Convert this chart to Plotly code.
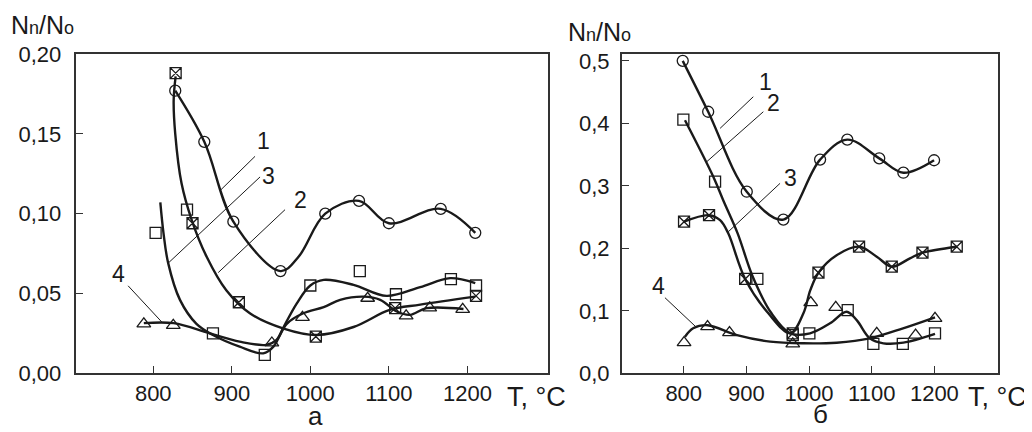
import plotly.graph_objects as go

# ---------------- Panel "а" (left) ----------------
a1_T = [828, 865, 902, 962, 1019, 1062, 1100, 1166, 1210]
a1_v = [0.177, 0.145, 0.095, 0.064, 0.100, 0.108, 0.094, 0.103, 0.088]
a1_line_T = [828, 865, 902, 962, 985, 1019, 1062, 1100, 1166, 1210]
a1_line_v = [0.177, 0.145, 0.095, 0.064, 0.073, 0.100, 0.108, 0.094, 0.103, 0.088]

a2_T = [803, 843, 876, 942, 1000, 1063, 1109, 1179, 1211]
a2_v = [0.088, 0.1025, 0.025, 0.0115, 0.055, 0.064, 0.0495, 0.059, 0.055]
a2_line_T = [809, 813, 819, 834, 855, 876, 910, 940, 953, 966, 983, 1000, 1017, 1055, 1097, 1140, 1178, 1210]
a2_line_v = [0.107, 0.088, 0.069, 0.046, 0.031, 0.024, 0.0167, 0.0125, 0.0167, 0.029, 0.044, 0.055,
             0.0585, 0.0554, 0.0485, 0.054, 0.0596, 0.0565]

a3_T = [828.5, 850, 909, 1007, 1108, 1211]
a3_v = [0.188, 0.094, 0.0445, 0.023, 0.0408, 0.0485]
a3_line_T = [828.5, 826, 828, 836, 849, 868, 893, 923, 966, 1008, 1055, 1101, 1140, 1210]
a3_line_v = [0.186, 0.171, 0.150, 0.119, 0.096, 0.073, 0.052, 0.0376, 0.028, 0.024, 0.029, 0.0397, 0.043, 0.048]

a4_T = [788, 825.5, 951, 990, 1073, 1122, 1152, 1194]
a4_v = [0.031, 0.030, 0.019, 0.035, 0.047, 0.036, 0.041, 0.040]
a4_line_T = [788, 826, 872, 910, 944, 957, 970, 991, 1017, 1038, 1068, 1089, 1110, 1127, 1148, 1195]
a4_line_v = [0.0314, 0.0314, 0.025, 0.0198, 0.0178, 0.021, 0.031, 0.0376, 0.0415, 0.046, 0.048, 0.046,
             0.0387, 0.0366, 0.0408, 0.0403]

# ---------------- Panel "б" (right) ----------------
b1_T = [798.4, 839, 900.6, 959, 1017.6, 1061, 1112, 1150.5, 1199.5]
b1_v = [0.500, 0.4186, 0.2906, 0.246, 0.342, 0.374, 0.344, 0.321, 0.341]

b2_T = [799.4, 850, 917.5, 974, 1000.5, 1061.7, 1102.6, 1149.6, 1201]
b2_v = [0.406, 0.3066, 0.151, 0.061, 0.064, 0.101, 0.047, 0.047, 0.064]
b2_line_T = [802, 847, 863, 886, 910, 940, 970, 1001.6, 1033.5, 1060, 1076, 1097, 1118.6, 1150.5, 1201]
b2_line_v = [0.405, 0.315, 0.277, 0.224, 0.155, 0.096, 0.064, 0.064, 0.080, 0.0986, 0.085, 0.056,
             0.048, 0.049, 0.063]

b3_T = [800.5, 840.4, 898, 974, 1015, 1079.8, 1132, 1181, 1235.7]
b3_v = [0.2426, 0.253, 0.151, 0.064, 0.161, 0.2026, 0.1706, 0.193, 0.2026]
b3_line_T = [800.5, 840, 858, 871, 898, 935, 970, 991, 1002, 1015, 1044, 1080, 1108, 1132, 1161, 1181, 1236]
b3_line_v = [0.2426, 0.253, 0.245, 0.224, 0.151, 0.096, 0.064, 0.096, 0.133, 0.161, 0.189, 0.2026,
             0.1866, 0.1706, 0.184, 0.193, 0.2026]

b4_T = [800.5, 838, 873, 974, 1002.7, 1042.6, 1108, 1170, 1201]
b4_v = [0.049, 0.0746, 0.065, 0.047, 0.113, 0.1056, 0.064, 0.061, 0.088]
b4_line_T = [802, 815, 838, 885, 938, 991, 1044, 1097, 1150, 1201]
b4_line_v = [0.0586, 0.072, 0.077, 0.061, 0.0506, 0.048, 0.049, 0.056, 0.072, 0.0896]

# tick labels
x_ticks = [800, 900, 1000, 1100, 1200]
x_ticktext = ["800", "900", "1000", "1100", "1200"]
ya_ticks = [0.0, 0.05, 0.10, 0.15, 0.20]
ya_ticktext = ["0,00", "0,05", "0,10", "0,15", "0,20"]
yb_ticks = [0.0, 0.1, 0.2, 0.3, 0.4, 0.5]
yb_ticktext = ["0,0", "0,1", "0,2", "0,3", "0,4", "0,5"]

# curve labels: (text, text T, text v, leader start T, v, leader end T, v)
a_labels = [
    ("1", 940, 0.1453, 929.6, 0.1359, 885, 0.1144),
    ("3", 946.5, 0.1233, 936, 0.123, 819, 0.069),
    ("2", 987, 0.1087, 967.8, 0.1025, 882.8, 0.0631),
    ("4", 755.4, 0.0621, 768, 0.0548, 810.7, 0.0322),
]
b_labels = [
    ("1", 929.8, 0.4666, 911, 0.4426, 858, 0.392),
    ("2", 943, 0.432, 927, 0.4186, 836.7, 0.3386),
    ("3", 969.7, 0.312, 953.7, 0.304, 871.2, 0.2266),
    ("4", 759.5, 0.1397, 770, 0.121, 818, 0.0757),
]

INK = "#1a1a1a"
FONT = "Liberation Sans, Arial, sans-serif"
OFF = 8                      # page body margin of the viewer
W, H = 1032 - OFF, 432 - OFF

fig = go.Figure()

def add_line(T, v, xa, ya):
    fig.add_trace(go.Scatter(x=T, y=v, mode="lines", xaxis=xa, yaxis=ya,
                             line=dict(color=INK, width=2.4, shape="spline", smoothing=1.0),
                             showlegend=False, hoverinfo="skip"))

def add_markers(T, v, sym, size, xa, ya):
    fig.add_trace(go.Scatter(x=T, y=v, mode="markers", xaxis=xa, yaxis=ya,
                             marker=dict(symbol=sym, size=size, color=INK,
                                         line=dict(color=INK, width=1.3)),
                             showlegend=False, hoverinfo="skip", cliponaxis=False))

# left panel
add_line(a1_line_T, a1_line_v, "x", "y")
add_line(a2_line_T, a2_line_v, "x", "y")
add_line(a3_line_T, a3_line_v, "x", "y")
add_line(a4_line_T, a4_line_v, "x", "y")
add_markers(a1_T, a1_v, "circle-open", 11, "x", "y")
add_markers(a2_T, a2_v, "square-open", 11, "x", "y")
add_markers(a3_T, a3_v, "square-x-open", 11, "x", "y")
add_markers(a4_T, a4_v, "triangle-up-open", 12, "x", "y")

# right panel
add_line(b1_T, b1_v, "x2", "y2")
add_line(b2_line_T, b2_line_v, "x2", "y2")
add_line(b3_line_T, b3_line_v, "x2", "y2")
add_line(b4_line_T, b4_line_v, "x2", "y2")
add_markers(b1_T, b1_v, "circle-open", 11, "x2", "y2")
add_markers(b2_T, b2_v, "square-open", 11, "x2", "y2")
add_markers(b3_T, b3_v, "square-x-open", 11, "x2", "y2")
add_markers(b4_T, b4_v, "triangle-up-open", 12, "x2", "y2")

annotations = []
shapes = []
for labels, xr, yr in ((a_labels, "x", "y"), (b_labels, "x2", "y2")):
    for txt, tx, tv, sx, sv, ex, ev in labels:
        annotations.append(dict(x=tx, y=tv, xref=xr, yref=yr, text=txt, showarrow=False,
                                font=dict(size=23, color=INK, family=FONT),
                                xanchor="center", yanchor="middle"))
        shapes.append(dict(type="line", x0=sx, y0=sv, x1=ex, y1=ev, xref=xr, yref=yr,
                           line=dict(color=INK, width=1)))

def fx(px):
    return (px - OFF) / W

def fy(py):
    return 1 - (py - OFF) / H

def px_ann(text, px, py, size):
    annotations.append(dict(x=fx(px), y=fy(py), xref="paper", yref="paper", text=text,
                            showarrow=False, font=dict(size=size, color=INK, family=FONT),
                            xanchor="center", yanchor="middle"))

ylab = "N<span style='font-size:18px'>n</span>/N<span style='font-size:18px'>o</span>"
px_ann(ylab, 42, 25, 25)
px_ann(ylab, 599, 32, 25)
px_ann("T, °C", 536, 397, 27)
px_ann("T, °C", 997, 397, 27)
px_ann("а", 315, 416, 26)
px_ann("б", 820, 414, 26)

axis_common = dict(showline=True, linecolor="#333333", linewidth=1.5, mirror=True,
                   ticks="inside", ticklen=8, tickwidth=1.2, tickcolor="#333333",
                   showgrid=False, zeroline=False, automargin=False,
                   tickfont=dict(size=22, color=INK, family=FONT))

y_dom = [fy(373.3), fy(54)]

fig.update_layout(
    width=W, height=H,
    margin=dict(l=0, r=0, t=0, b=0),
    paper_bgcolor="white", plot_bgcolor="white",
    xaxis=dict(domain=[fx(75.5), fx(548.3)], range=[701, 1303], anchor="y",
               tickvals=x_ticks, ticktext=x_ticktext, **axis_common),
    yaxis=dict(domain=y_dom, range=[0, 0.2], anchor="x",
               tickvals=ya_ticks, ticktext=ya_ticktext, ticklabelstandoff=8, **axis_common),
    xaxis2=dict(domain=[fx(621.7), fx(998.3)], range=[701, 1302], anchor="y2",
                tickvals=x_ticks, ticktext=x_ticktext, **axis_common),
    yaxis2=dict(domain=y_dom, range=[0, 0.511], anchor="x2",
                tickvals=yb_ticks, ticktext=yb_ticktext, ticklabelstandoff=6, **axis_common),
    annotations=annotations,
    shapes=shapes,
)

fig.write_html("out.html")
